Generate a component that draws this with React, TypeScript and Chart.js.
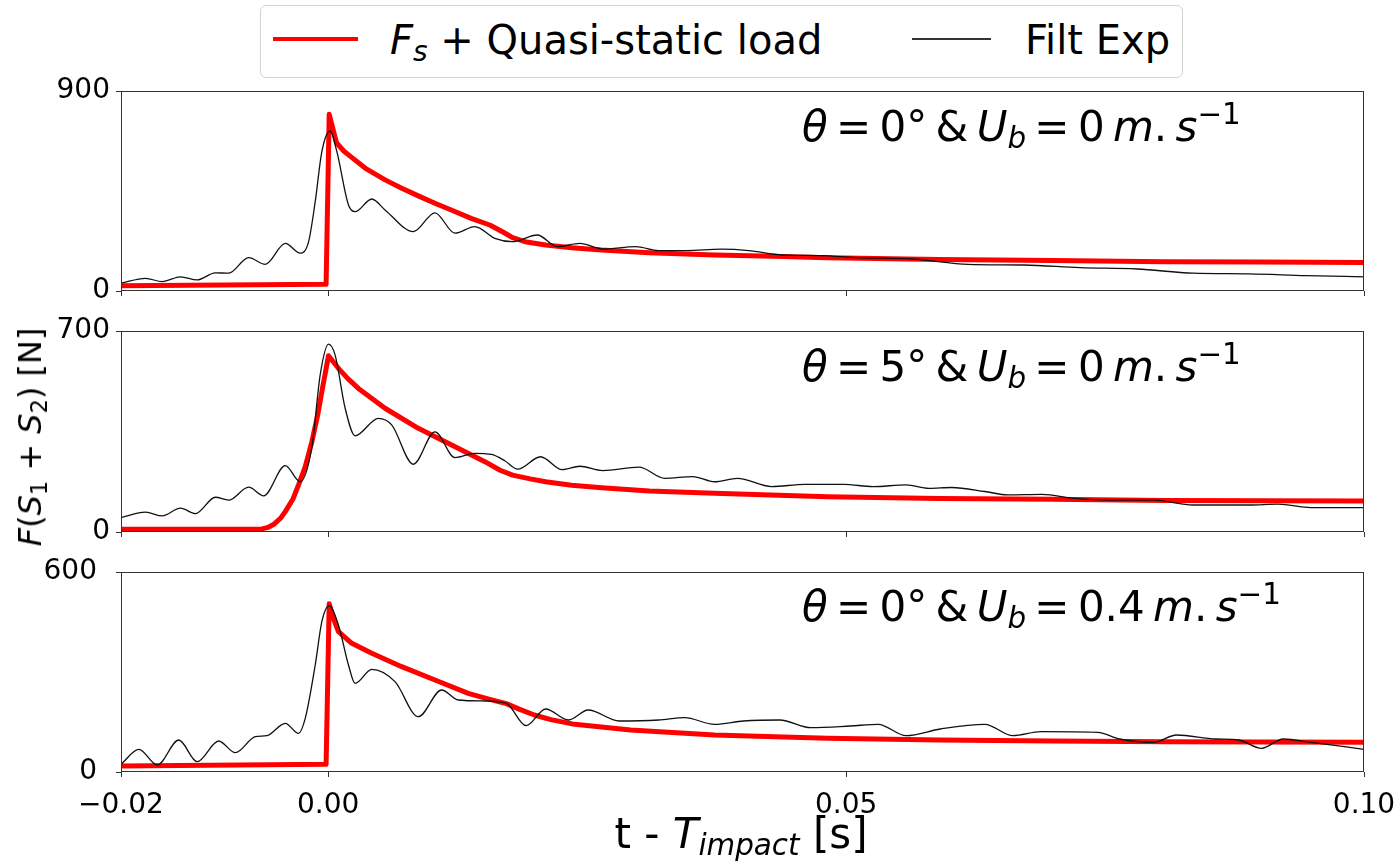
import React, { useEffect, useRef } from 'react';
import { Chart, registerables } from 'chart.js';

Chart.register(...registerables);

// ---------------- data ----------------
const X_TICKS = [-0.02, 0, 0.05, 0.1];
const X_TICK_LABELS = ['\u22120.02', '0.00', '0.05', '0.10'];
const Y_MAXES = [900, 700, 600];
const Y_TICK_LABELS = [['0', '900'], ['0', '700'], ['0', '600']];

// Panel 1 : theta = 0deg, Ub = 0
const P1_MODEL_T = [-0.02, -0.0002, 0.0001, 0.0004, 0.0008, 0.0015, 0.0023, 0.0036, 0.0055, 0.0071, 0.0087, 0.0103, 0.012, 0.0138, 0.0156, 0.017, 0.0178, 0.019, 0.021, 0.0235, 0.0264, 0.031, 0.0373, 0.043, 0.0482, 0.059, 0.0699, 0.0808, 0.09, 0.1];
const P1_MODEL_F = [24, 30, 795, 740, 668, 630, 600, 552, 500, 462, 428, 395, 362, 327, 297, 262, 240, 222, 207, 195, 184, 172, 162, 156, 150, 142, 137, 132, 130, 128];
const P1_EXP_T = [-0.02, -0.01763, -0.01602, -0.01426, -0.01265, -0.01089, -0.0096, -0.00768, -0.00607, -0.00414, -0.0027, -0.0019, -0.00125, -0.00061, 0.00019, 0.00084, 0.00196, 0.0026, 0.00421, 0.00549, 0.00822, 0.01031, 0.01224, 0.01416, 0.01609, 0.0178, 0.0202, 0.0221, 0.0243, 0.0265, 0.0297, 0.0319, 0.0346, 0.0379, 0.0406, 0.0438, 0.0477, 0.0509, 0.0564, 0.0618, 0.0672, 0.0726, 0.0781, 0.0835, 0.0889, 0.0944, 0.1];
const P1_EXP_F = [35, 57, 42, 64, 50, 82, 80, 150, 120, 214, 170, 220, 402, 627, 720, 627, 387, 357, 414, 365, 267, 352, 260, 290, 237, 222, 252, 200, 214, 189, 200, 182, 182, 188, 182, 162, 159, 150, 144, 120, 117, 105, 99, 80, 77, 69, 64];

// Panel 2 : theta = 5deg, Ub = 0
const P2_MODEL_T = [-0.02, -0.0065, -0.0058, -0.0052, -0.0046, -0.00414, -0.0034, -0.00286, -0.0022, -0.00157, -0.001, -0.00061, 0.00003, 0.00099, 0.0019, 0.00292, 0.00549, 0.0087, 0.01192, 0.01513, 0.0166, 0.0178, 0.0195, 0.021, 0.0235, 0.0264, 0.031, 0.0373, 0.0482, 0.059, 0.0699, 0.0808, 0.1];
const P2_MODEL_F = [10, 10, 16, 28, 48, 71, 115, 164, 229, 315, 409, 489, 614, 570, 534, 500, 431, 361, 303, 245, 215, 198, 185, 175, 163, 154, 143, 135, 123, 117, 114, 110, 108];
const P2_EXP_T = [-0.02, -0.01763, -0.01602, -0.01426, -0.01281, -0.01089, -0.0096, -0.00768, -0.00623, -0.00414, -0.0027, -0.00157, -0.00077, 0.00003, 0.00067, 0.00164, 0.0026, 0.00485, 0.00613, 0.00822, 0.01031, 0.01224, 0.01416, 0.01577, 0.01705, 0.0183, 0.0205, 0.0226, 0.0243, 0.0265, 0.03, 0.0325, 0.0352, 0.0373, 0.0395, 0.0428, 0.046, 0.0498, 0.0526, 0.0558, 0.058, 0.0602, 0.0634, 0.0656, 0.0689, 0.0721, 0.0753, 0.0797, 0.0835, 0.0889, 0.0917, 0.0949, 0.1];
const P2_EXP_F = [50, 69, 56, 83, 64, 121, 111, 156, 126, 231, 175, 296, 547, 654, 616, 431, 335, 396, 373, 236, 349, 259, 274, 270, 248, 219, 262, 217, 229, 214, 226, 187, 193, 175, 187, 158, 166, 166, 158, 164, 152, 155, 141, 129, 131, 117, 111, 111, 94, 94, 97, 85, 85];

// Panel 3 : theta = 0deg, Ub = 0.4
const P3_MODEL_T = [-0.02, -0.0002, 0.0001, 0.0004, 0.00099, 0.00228, 0.00421, 0.0071, 0.01031, 0.01352, 0.0156, 0.0172, 0.0185, 0.0199, 0.0215, 0.0238, 0.0292, 0.0373, 0.0482, 0.059, 0.0699, 0.0808, 0.1];
const P3_MODEL_F = [18, 23, 505, 470, 421, 386, 356, 316, 276, 236, 218, 205, 188, 171, 157, 143, 126, 111, 101, 96, 93, 91, 89];
const P3_EXP_T = [-0.02, -0.01827, -0.0165, -0.01442, -0.01265, -0.01057, -0.00896, -0.00703, -0.00591, -0.00414, -0.00286, -0.00222, -0.00125, -0.00061, 0.0001, 0.00099, 0.00196, 0.0026, 0.00421, 0.00645, 0.0087, 0.01095, 0.01256, 0.01513, 0.0172, 0.0191, 0.021, 0.0232, 0.0251, 0.0281, 0.0319, 0.0344, 0.0373, 0.0401, 0.0436, 0.0466, 0.0504, 0.0531, 0.0558, 0.0591, 0.0634, 0.0661, 0.0688, 0.0743, 0.0764, 0.0797, 0.0819, 0.0857, 0.0879, 0.0901, 0.0922, 0.0949, 0.1];
const P3_EXP_F = [23, 68, 21, 96, 31, 93, 58, 106, 109, 146, 116, 160, 321, 451, 499, 441, 321, 266, 308, 271, 166, 246, 216, 213, 206, 139, 189, 156, 186, 153, 156, 163, 143, 153, 156, 133, 138, 143, 109, 129, 143, 109, 121, 119, 99, 89, 111, 99, 96, 71, 99, 89, 68];

const MODEL_LABEL = 'F_s + Quasi-static load';
const EXP_LABEL = 'Filt Exp';

// ---------------- style ----------------
const FONT = "'DejaVu Sans', sans-serif";
const FRAME = '#333333';
const RED = '#ff0000';

const toPoints = (t: number[], f: number[]) => t.map((x, i) => ({ x, y: f[i] }));

const framePlugin = {
  id: 'frame',
  afterDraw(chart: any) {
    const { ctx, chartArea: a } = chart;
    ctx.save();
    ctx.strokeStyle = FRAME;
    ctx.lineWidth = 1;
    const l = Math.round(a.left) + 0.5;
    const r = Math.round(a.right) - 0.5;
    const t = Math.round(a.top) + 0.5;
    const b = Math.round(a.bottom) - 0.5;
    ctx.strokeRect(l, t, r - l, b - t);
    ctx.restore();
  },
};

type PanelDef = {
  top: number;
  height: number;
  xAxisH: number;
  yPad: number;
  showX: boolean;
  yMax: number;
  yLabels: string[];
  modelT: number[];
  modelF: number[];
  expT: number[];
  expF: number[];
};

const PANELS: PanelDef[] = [
  { top: 71, height: 240, xAxisH: 20, yPad: 6, showX: false, yMax: Y_MAXES[0], yLabels: Y_TICK_LABELS[0], modelT: P1_MODEL_T, modelF: P1_MODEL_F, expT: P1_EXP_T, expF: P1_EXP_F },
  { top: 311, height: 241, xAxisH: 20, yPad: 6, showX: false, yMax: Y_MAXES[1], yLabels: Y_TICK_LABELS[1], modelT: P2_MODEL_T, modelF: P2_MODEL_F, expT: P2_EXP_T, expF: P2_EXP_F },
  { top: 552, height: 270, xAxisH: 50, yPad: 19, showX: true, yMax: Y_MAXES[2], yLabels: Y_TICK_LABELS[2], modelT: P3_MODEL_T, modelF: P3_MODEL_F, expT: P3_EXP_T, expF: P3_EXP_F },
];

function Panel({ def }: { def: PanelDef }) {
  const ref = useRef<HTMLCanvasElement>(null);
  useEffect(() => {
    if (!ref.current) return;
    const chart = new Chart(ref.current, {
      type: 'line',
      data: {
        datasets: [
          {
            label: MODEL_LABEL,
            data: toPoints(def.modelT, def.modelF),
            borderColor: RED,
            backgroundColor: RED,
            borderWidth: 5,
            pointRadius: 0,
            tension: 0,
            borderJoinStyle: 'round',
            order: 1,
          },
          {
            label: EXP_LABEL,
            data: toPoints(def.expT, def.expF),
            borderColor: '#111111',
            backgroundColor: '#111111',
            borderWidth: 1.3,
            pointRadius: 0,
            cubicInterpolationMode: 'monotone',
            order: 0,
          },
        ],
      },
      options: {
        animation: false,
        responsive: false,
        maintainAspectRatio: false,
        events: [],
        layout: { padding: { left: 0, right: 31, top: 20, bottom: 0 } },
        plugins: { legend: { display: false }, tooltip: { enabled: false }, title: { display: false } },
        scales: {
          x: {
            type: 'linear',
            min: -0.02,
            max: 0.1,
            afterBuildTicks: (s: any) => {
              s.ticks = X_TICKS.map((v) => ({ value: v }));
            },
            afterFit: (s: any) => {
              s.height = def.xAxisH;
              s.paddingLeft = 0;
              s.paddingRight = 0;
            },
            ticks: {
              display: def.showX,
              autoSkip: false,
              maxRotation: 0,
              padding: 12,
              color: '#000',
              font: { family: FONT, size: 28 },
              callback: (_v: any, i: number) => X_TICK_LABELS[i],
            },
            grid: { drawOnChartArea: false, drawTicks: true, tickLength: 5, color: FRAME, lineWidth: 1 },
            border: { display: false },
          },
          y: {
            type: 'linear',
            min: 0,
            max: def.yMax,
            afterBuildTicks: (s: any) => {
              s.ticks = [{ value: 0 }, { value: def.yMax }];
            },
            afterFit: (s: any) => {
              s.width = 121;
              s.paddingTop = 0;
              s.paddingBottom = 0;
            },
            ticks: {
              padding: def.yPad,
              color: '#000',
              font: { family: FONT, size: 28 },
              callback: (_v: any, i: number) => def.yLabels[i],
            },
            grid: { drawOnChartArea: false, drawTicks: true, tickLength: 5, color: FRAME, lineWidth: 1 },
            border: { display: false },
          },
        },
      },
      plugins: [framePlugin],
    } as any);
    return () => chart.destroy();
  }, [def]);
  return (
    <canvas
      ref={ref}
      width={1395}
      height={def.height}
      style={{ position: 'absolute', left: 0, top: def.top, width: 1395, height: def.height }}
    />
  );
}

const subStyle: React.CSSProperties = { fontSize: '0.7em', position: 'relative', top: '0.25em', verticalAlign: 'baseline', lineHeight: 0 };
const supStyle: React.CSSProperties = { fontSize: '0.7em', position: 'relative', top: '-0.57em', verticalAlign: 'baseline', lineHeight: 0 };
const it: React.CSSProperties = { fontStyle: 'italic' };

function Annotation({ top, theta, ub }: { top: number; theta: string; ub: string }) {
  return (
    <div
      style={{
        position: 'absolute',
        left: 802,
        top,
        fontSize: 42,
        lineHeight: '42px',
        whiteSpace: 'nowrap',
        wordSpacing: '-0.12em',
      }}
    >
      <span style={it}>θ</span> = {theta}° &amp; <span style={it}>U</span>
      <span style={{ ...subStyle, fontStyle: 'italic' }}>b</span> = {ub} <span style={it}>m</span>.{'\u2009'}
      <span style={it}>s</span>
      <span style={supStyle}>{'\u22121'}</span>
    </div>
  );
}

export default function App() {
  return (
    <div
      style={{
        position: 'fixed',
        left: 0,
        top: 0,
        width: 1395,
        height: 865,
        background: '#ffffff',
        fontFamily: FONT,
        color: '#000',
        overflow: 'hidden',
      }}
    >
      {PANELS.map((p, i) => (
        <Panel key={i} def={p} />
      ))}

      {/* legend */}
      <div
        style={{
          position: 'absolute',
          left: 260,
          top: 5,
          width: 923,
          height: 73,
          boxSizing: 'border-box',
          border: '1px solid #d2d2d2',
          borderRadius: 6,
          background: '#fff',
        }}
      />
      <div style={{ position: 'absolute', left: 273, top: 37, width: 85, height: 4, background: RED }} />
      <div style={{ position: 'absolute', left: 390, top: 20, fontSize: 40, lineHeight: '40px', whiteSpace: 'nowrap' }}>
        <span style={it}>F</span>
        <span style={{ ...subStyle, fontStyle: 'italic' }}>s</span> + Quasi-static load
      </div>
      <div style={{ position: 'absolute', left: 912, top: 38, width: 79, height: 1.5, background: '#333' }} />
      <div style={{ position: 'absolute', left: 1025, top: 20, fontSize: 40, lineHeight: '40px', whiteSpace: 'nowrap' }}>
        {EXP_LABEL}
      </div>

      {/* annotations */}
      <Annotation top={106} theta="0" ub="0" />
      <Annotation top={346} theta="5" ub="0" />
      <Annotation top={586} theta="0" ub="0.4" />

      {/* x axis title */}
      <div
        style={{
          position: 'absolute',
          left: 741,
          top: 813,
          fontSize: 42,
          lineHeight: '42px',
          whiteSpace: 'nowrap',
          transform: 'translateX(-50%)',
        }}
      >
        t - <span style={it}>T</span>
        <span style={{ ...subStyle, fontStyle: 'italic' }}>impact</span> [s]
      </div>

      {/* y axis title */}
      <div
        style={{
          position: 'absolute',
          left: 30,
          top: 437,
          fontSize: 32,
          lineHeight: '32px',
          whiteSpace: 'nowrap',
          transform: 'translate(-50%, -50%) rotate(-90deg)',
        }}
      >
        <span style={it}>F</span>(<span style={it}>S</span>
        <span style={subStyle}>1</span> + <span style={it}>S</span>
        <span style={subStyle}>2</span>) [N]
      </div>
    </div>
  );
}
